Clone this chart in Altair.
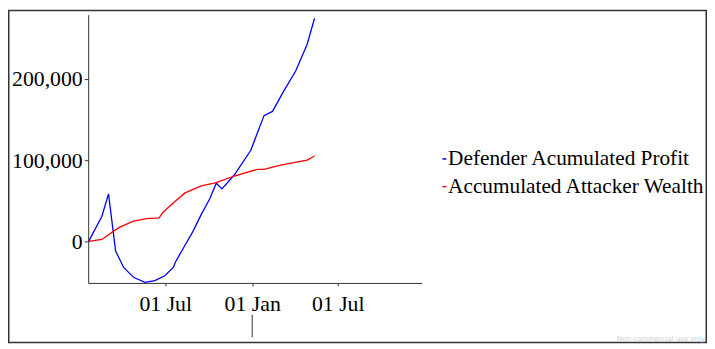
import altair as alt
import pandas as pd

FONT = "Liberation Serif"

blue_dates = ["2021-01-20", "2021-02-17", "2021-03-03", "2021-03-18", "2021-04-04",
              "2021-04-25", "2021-05-19", "2021-06-09", "2021-06-30", "2021-07-18",
              "2021-07-24", "2021-08-11", "2021-08-29", "2021-09-15", "2021-10-03",
              "2021-10-17", "2021-10-29", "2021-11-24", "2021-12-29", "2022-01-26",
              "2022-02-13", "2022-03-09", "2022-04-03", "2022-04-27", "2022-05-13"]
blue_vals = [0, 30900, 58500, -11800, -32100,
             -44300, -50400, -48400, -42300, -32100,
             -24000, -5700, 12600, 32900, 52100,
             71600, 64600, 81700, 112200, 154900,
             160100, 185400, 209800, 242300, 274800]

red_dates = ["2021-01-20", "2021-02-17", "2021-03-14", "2021-03-28", "2021-04-25",
             "2021-05-22", "2021-06-18", "2021-06-27", "2021-07-18", "2021-08-11",
             "2021-09-15", "2021-10-17", "2021-11-24", "2022-01-12", "2022-01-26",
             "2022-03-02", "2022-04-27", "2022-05-13"]
red_vals = [0, 2400, 12600, 17900, 24800,
            28000, 29000, 36200, 47200, 59400,
            68300, 72300, 80500, 88700, 88700,
            93900, 100000, 105200]

series = ["Defender Acumulated Profit", "Accumulated Attacker Wealth"]
colors = ["#0000ff", "#ff0000"]

df = pd.concat([
    pd.DataFrame({"date": blue_dates, "value": blue_vals, "series": series[0]}),
    pd.DataFrame({"date": red_dates, "value": red_vals, "series": series[1]}),
])

x_domain = [alt.DateTime(year=2021, month=1, date=19, utc=True),
            alt.DateTime(year=2022, month=12, date=26, utc=True)]
x_ticks = [alt.DateTime(year=2021, month=7, date=1, utc=True),
           alt.DateTime(year=2022, month=1, date=1, utc=True),
           alt.DateTime(year=2022, month=7, date=1, utc=True)]

xenc = alt.X("date:T", title=None,
             scale=alt.Scale(type="utc", domain=x_domain, nice=False),
             axis=alt.Axis(values=x_ticks, labelExpr="utcFormat(datum.value, '%d %b')",
                           grid=False, tickSize=3, labelPadding=8,
                           labelFont=FONT, labelFontSize=22, labelColor="black",
                           domainColor="#333", tickColor="#333", labelFlush=False))
yenc = alt.Y("value:Q", title=None,
             scale=alt.Scale(domain=[-51200, 279300], nice=False, zero=False),
             axis=alt.Axis(values=[0, 100000, 200000], format=",d", grid=False,
                           tickSize=4, labelPadding=2,
                           labelFont=FONT, labelFontSize=22, labelColor="black",
                           domainColor="#333", tickColor="#333"))

lines = alt.Chart(df).mark_line(strokeWidth=1.3).encode(
    x=xenc, y=yenc,
    color=alt.Color("series:N", sort=series,
                    scale=alt.Scale(domain=series, range=colors),
                    legend=alt.Legend(title=None, orient="none", legendX=349, legendY=135,
                                      symbolType="stroke", symbolSize=16,
                                      symbolStrokeWidth=1.5, labelFont=FONT,
                                      labelFontSize=21.5, labelColor="black",
                                      labelLimit=400, labelOffset={"expr": "-7"},
                                      rowPadding=5)),
)

year_sep = alt.Chart(pd.DataFrame({"date": ["2022-01-01"]})).mark_rule(
    color="#333", strokeWidth=1).encode(
    x=alt.X("date:T"), y=alt.value(303), y2=alt.value(326))

frame = alt.Chart(pd.DataFrame({"a": [0]})).mark_rect(
    fill=None, fillOpacity=0, stroke="#333", strokeWidth=1.5).encode(
    x=alt.value(-80.25), x2=alt.value(624.25), y=alt.value(-4.25), y2=alt.value(331.25))

mark_txt = alt.Chart(pd.DataFrame({"a": [0]})).mark_text(
    font="DejaVu Sans", fontSize=7, color="#d0d0d0", align="right", baseline="bottom").encode(
    x=alt.value(623), y=alt.value(331), text=alt.value("Non-commercial use only"))

chart = alt.layer(frame, lines, year_sep, mark_txt).properties(
    width=337, height=271,
    background="white",
    autosize=alt.AutoSizeParams(type="none"),
    padding={"left": 81, "top": 5, "right": 288, "bottom": 61},
).configure_view(stroke=None)

chart.save("out.html", embed_options={"renderer": "svg", "actions": False})
